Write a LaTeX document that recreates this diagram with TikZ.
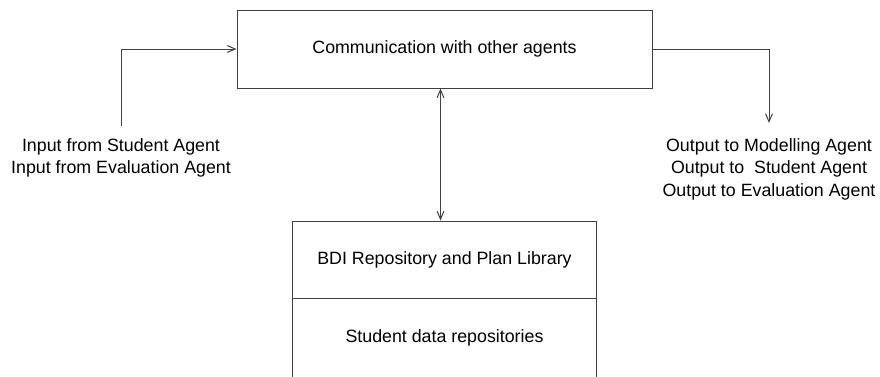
\documentclass[tikz,border=0pt]{standalone}
\usepackage{fontspec}
\setmainfont{Liberation Sans}
\usetikzlibrary{arrows,positioning}
\tikzstyle{block} = [rectangle, draw=black!75, line width=0.5pt, inner sep=0pt,
    text centered, minimum width=152pt, minimum height=38.5pt]
\tikzstyle{wideblock} = [block, minimum width=207.5pt, minimum height=39pt]
\tikzstyle{iolabel} = [align=center, inner xsep=0pt, inner ysep=6pt, anchor=north]
\tikzstyle{line} = [draw=black!75, line width=0.5pt, -angle 45]

\begin{document}
\begin{tikzpicture}[x=0.5pt, y=-0.5pt, font=\fontsize{8.9pt}{11pt}\selectfont]
    \useasboundingbox (0,0) rectangle (880,376);
    % Place nodes
    \node [wideblock] (comm) at (444.5,49) {Communication with other agents};
    \node [block, below of=comm, node distance=105.25pt] (bdi) {BDI Repository and Plan Library};
    \node [block, below of=bdi, node distance=39.25pt, minimum height=40pt] (studdata) {Student data repositories};
    % the labels on the sides
    \node [iolabel] (input) at (121,126) {Input from Student Agent\\Input from Evaluation Agent};
    \node [iolabel, inner ysep=7.5pt, font=\fontsize{8.9pt}{11.25pt}\selectfont] (output) at (769,123)
        {Output to Modelling Agent\\Output to\ \ Student Agent\\Output to Evaluation Agent};
    % Draw edges
    \path [line] (input.north) |- (comm.west);
    \path [line] (comm.east) -| (output.north);
    \path [line, angle 45-angle 45] ([xshift=-2pt]comm.south) -- ([xshift=-2pt]bdi.north);

\end{tikzpicture}
\end{document}
